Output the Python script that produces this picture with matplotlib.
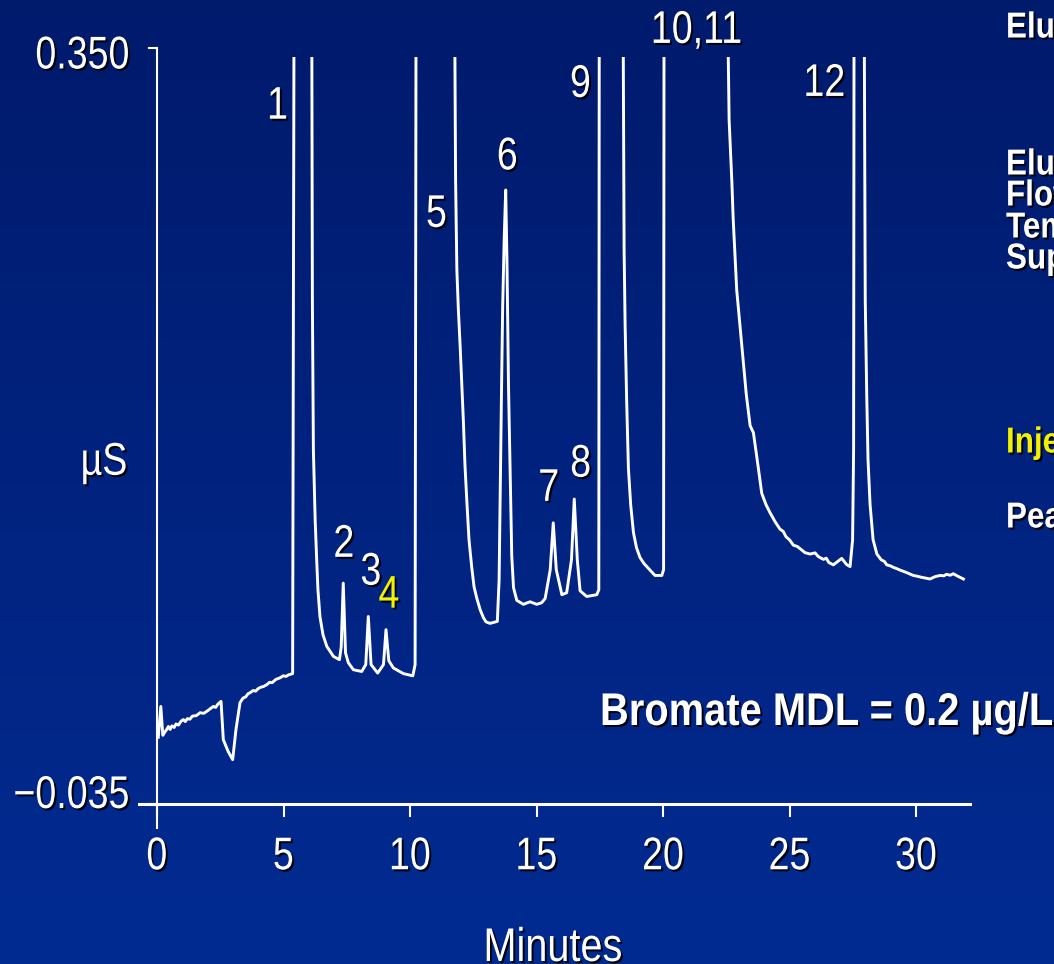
import numpy as np
import matplotlib
matplotlib.use("Agg")
import matplotlib.pyplot as plt
import matplotlib.patheffects as pe
from matplotlib.colors import LinearSegmentedColormap
from matplotlib.patches import Rectangle
from matplotlib.transforms import Affine2D

# chromatogram (minutes, µS); off-scale peaks given as 0.40
minutes = [0.05, 0.15, 0.23, 0.30, 0.38, 0.45, 0.52, 0.59, 0.68, 0.75, 0.85, 0.95, 1.04, 1.12,
           1.20, 1.30, 1.40, 1.55, 1.70, 1.85, 2.00, 2.10, 2.23, 2.32, 2.40, 2.53,
           2.62, 2.81, 2.99, 3.12, 3.28, 3.40, 3.50, 3.60, 3.68, 3.80, 3.90, 4.00, 4.10, 4.20,
           4.34, 4.45, 4.55, 4.70, 4.85, 4.99, 5.10, 5.20, 5.36,
           5.42, 6.11, 6.14, 6.18, 6.25, 6.31, 6.36, 6.44, 6.56, 6.71, 6.97, 7.21,
           7.28, 7.36, 7.45, 7.56, 7.76, 8.09,
           8.25, 8.35, 8.46, 8.72,
           8.95, 9.05, 9.16, 9.34, 9.74, 10.11, 10.20,
           10.24, 11.75, 11.80, 11.85, 11.91, 11.98, 12.11, 12.17, 12.24, 12.33, 12.44, 12.53,
           12.64, 12.77, 12.90, 13.00, 13.16, 13.45,
           13.52, 13.56, 13.61, 13.66, 13.72, 13.78, 13.83, 13.89, 13.96, 14.02, 14.09, 14.22,
           14.48, 14.74, 15.01, 15.20, 15.34,
           15.54, 15.66, 15.78, 16.00, 16.19,
           16.38, 16.49, 16.61, 16.72, 16.98, 17.20, 17.38, 17.46,
           17.48, 18.41, 18.46, 18.50, 18.56, 18.63, 18.72, 18.83, 18.95, 19.09, 19.25, 19.42,
           19.57, 19.68, 19.95, 20.02,
           20.04, 22.52, 22.61, 22.72, 22.77, 22.91, 23.04, 23.17, 23.29, 23.44, 23.57, 23.72,
           23.90, 24.07, 24.23, 24.43, 24.62, 24.75, 24.86, 25.00, 25.15, 25.30, 25.42, 25.61,
           25.81, 26.01, 26.12, 26.20, 26.34, 26.45, 26.55, 26.73, 26.90, 27.06, 27.25, 27.39,
           27.49, 27.53,
           27.55, 27.94, 27.99, 28.05, 28.10, 28.18, 28.30, 28.45, 28.62, 28.75, 28.84, 29.00,
           29.10, 29.25, 29.37, 29.60, 29.75, 29.89, 30.05, 30.20, 30.40, 30.55, 30.75, 30.95,
           31.10, 31.20, 31.35, 31.47, 31.65, 31.87]
conductance = [-0.001, 0.0147, 0.000, 0.0015, 0.0029, 0.0045, 0.0030, 0.0048, 0.0040, 0.0058,
               0.0052, 0.0072, 0.0080, 0.0070, 0.0085, 0.0082, 0.0098, 0.0100, 0.0115, 0.0112,
               0.0125, 0.0135, 0.0147, 0.0142, 0.0158, 0.0173,
               -0.0022, -0.0082, -0.0124, 0.0029, 0.0166, 0.0190, 0.0195, 0.0212, 0.0217, 0.0228,
               0.0225, 0.0238, 0.0245, 0.0248, 0.0258, 0.0270, 0.0268, 0.0285, 0.0292, 0.0303,
               0.0300, 0.0308, 0.0314,
               0.40, 0.40, 0.2217, 0.1454, 0.1097, 0.0894, 0.0741, 0.0604, 0.0512, 0.0453, 0.0402,
               0.0385,
               0.045, 0.0775, 0.042, 0.0370, 0.0334, 0.0325,
               0.036, 0.0605, 0.036, 0.0317,
               0.036, 0.0538, 0.038, 0.0343, 0.0314, 0.0303, 0.0360,
               0.40, 0.40, 0.2828, 0.2372, 0.2166, 0.1982, 0.1593, 0.1378, 0.1203, 0.0996, 0.0853,
               0.0756, 0.0697, 0.0640, 0.0599, 0.0578, 0.0570, 0.0580,
               0.0792, 0.1203, 0.1708, 0.2177, 0.2523, 0.2777, 0.2421, 0.1788, 0.1301, 0.0911,
               0.0751, 0.0687,
               0.0667, 0.0680, 0.0667, 0.0675, 0.0697,
               0.0843, 0.1082, 0.0843, 0.0716, 0.0726,
               0.0894, 0.1203, 0.0894, 0.0736, 0.0707, 0.0712, 0.0716, 0.0741,
               0.40, 0.40, 0.2472, 0.2087, 0.1708, 0.1359, 0.1174, 0.1032, 0.0955, 0.0905, 0.0874,
               0.0850, 0.0828, 0.0814, 0.0814, 0.0843,
               0.40, 0.40, 0.3134, 0.2813, 0.2632, 0.2268, 0.2087, 0.1905, 0.1734, 0.1577, 0.1541,
               0.1403, 0.1232, 0.1174, 0.1133, 0.1087, 0.1050, 0.1038, 0.1011, 0.0995, 0.0968,
               0.0962, 0.0950, 0.0930, 0.0923, 0.0929, 0.0912, 0.0905, 0.0896, 0.0902, 0.0880,
               0.0868, 0.0885, 0.0901, 0.0870, 0.0859,
               0.0996, 0.1454,
               0.40, 0.40, 0.2217, 0.1723, 0.1403, 0.1177, 0.0996, 0.0923, 0.0894, 0.0885, 0.0868,
               0.0862, 0.0855, 0.0848, 0.0841, 0.0830, 0.0822, 0.0814, 0.0810, 0.0805, 0.0800,
               0.0796, 0.0808, 0.0814, 0.0812, 0.0820, 0.0815, 0.0823, 0.0810, 0.0796]

peak_labels = ["1", "2", "3", "4", "5", "6", "7", "8", "9", "10,11", "12"]
label_t = [4.77, 7.39, 8.46, 9.17, 11.05, 13.85, 15.49, 16.75, 16.74, 21.33, 26.38]
label_v = [0.3201, 0.097, 0.0828, 0.0711, 0.265, 0.2943, 0.1255, 0.1378, 0.3312, 0.3587, 0.3317]
label_col = ["white", "white", "white", "#f2f200", "white", "white", "white", "white",
             "white", "white", "white"]

x_ticks = [0, 5, 10, 15, 20, 25, 30]

side_text = ["Eluent Source:", "Eluent:", "Flow Rate:", "Temperature:", "Suppressor:",
             "Injection:", "Peaks:"]
side_y = [28, 165, 196, 228, 259, 443, 518]
side_col = ["white", "white", "white", "white", "white", "#f2f200", "white"]

plt.rcParams["font.family"] = ["Liberation Sans", "DejaVu Sans"]


class Narrow(pe.AbstractPathEffect):
    """squeeze text sideways (narrow face look) and add a drop shadow"""

    def __init__(self, sx=0.82, anchor="center", off=2.0):
        super().__init__()
        self.sx, self.anchor, self.off = sx, anchor, off

    def draw_path(self, renderer, gc, tpath, affine, rgbFace=None):
        if len(tpath.vertices) == 0:
            return
        xs = affine.transform(tpath.vertices)[:, 0]
        if self.anchor == "left":
            x0 = xs.min()
        elif self.anchor == "right":
            x0 = xs.max()
        else:
            x0 = 0.5 * (xs.min() + xs.max())
        sq = affine + Affine2D().translate(-x0, 0).scale(self.sx, 1).translate(x0, 0)
        gc0 = renderer.new_gc()
        gc0.copy_properties(gc)
        gc0.set_foreground("black")
        gc0.set_alpha(0.9)
        renderer.draw_path(gc0, tpath, sq + Affine2D().translate(self.off, -self.off), (0, 0, 0))
        gc0.restore()
        renderer.draw_path(gc, tpath, sq, rgbFace)


W, H = 1054, 964
fig = plt.figure(figsize=(W / 100, H / 100), dpi=100)

# background gradient
bg = fig.add_axes([0, 0, 1, 1], zorder=-10)
cmap = LinearSegmentedColormap.from_list("slide", ["#001a6c", "#022b92"])
bg.imshow(np.linspace(0, 1, 256).reshape(-1, 1), cmap=cmap, aspect="auto",
          extent=[0, 1, 0, 1])
bg.axis("off")

ax = fig.add_axes([139.3 / W, 1 - 827.6 / H, 830.7 / W, 779.6 / H])
ax.patch.set_alpha(0)
ax.set_xlim(-0.70, 32.13)
ax.set_ylim(-0.047, 0.350)

line, = ax.plot(minutes, conductance, color="white", lw=2.1, solid_joinstyle="round")
clip = Rectangle((-1, -0.1), 40, 0.4454, transform=ax.transData)
line.set_clip_path(clip)

for s in ["top", "right"]:
    ax.spines[s].set_visible(False)
ax.spines["left"].set_position(("data", 0))
ax.spines["bottom"].set_position(("data", -0.035))
ax.spines["left"].set_color("white")
ax.spines["bottom"].set_color("white")
ax.spines["left"].set_linewidth(1.5)
ax.spines["bottom"].set_linewidth(2.2)

ax.set_xticks(x_ticks)
ax.set_xticklabels([str(v) for v in x_ticks])
ax.tick_params(axis="x", colors="white", length=9.5, width=1.5, pad=13, labelsize=33)
for lab in ax.get_xticklabels():
    lab.set_path_effects([Narrow()])
ax.set_yticks([-0.035, 0.350])
ax.set_yticklabels([])
ax.tick_params(axis="y", colors="white", length=6.5, width=1.5)

ax.text(-1.07, 0.3457, "0.350", color="white", fontsize=33, ha="right", va="center",
        path_effects=[Narrow(anchor="right")])
ax.text(-1.07, -0.0309, "\u22120.035", color="white", fontsize=33, ha="right", va="center",
        path_effects=[Narrow(anchor="right")])
ax.text(-2.09, 0.1327, "µS", color="white", fontsize=33, ha="center", va="baseline",
        path_effects=[Narrow()])

for s, t, v, c in zip(peak_labels, label_t, label_v, label_col):
    ax.text(t, v, s, color=c, fontsize=33, ha="center", va="center", path_effects=[Narrow()])

fig.text(553 / W, 3 / H, "Minutes", color="white", fontsize=34, ha="center",
         va="baseline", path_effects=[Narrow(sx=0.84)])
fig.text(600 / W, 1 - 725 / H, "Bromate MDL = 0.2 µg/L", color="white", fontsize=33,
         fontweight="bold", ha="left", va="baseline", path_effects=[Narrow(sx=0.87, anchor="left")])

for s, y, c in zip(side_text, side_y, side_col):
    fig.text(1006 / W, 1 - y / H, s, color=c, fontsize=26, fontweight="bold",
             ha="left", va="center", path_effects=[Narrow(sx=0.87, anchor="left")])

fig.savefig("out.png", dpi=100)
